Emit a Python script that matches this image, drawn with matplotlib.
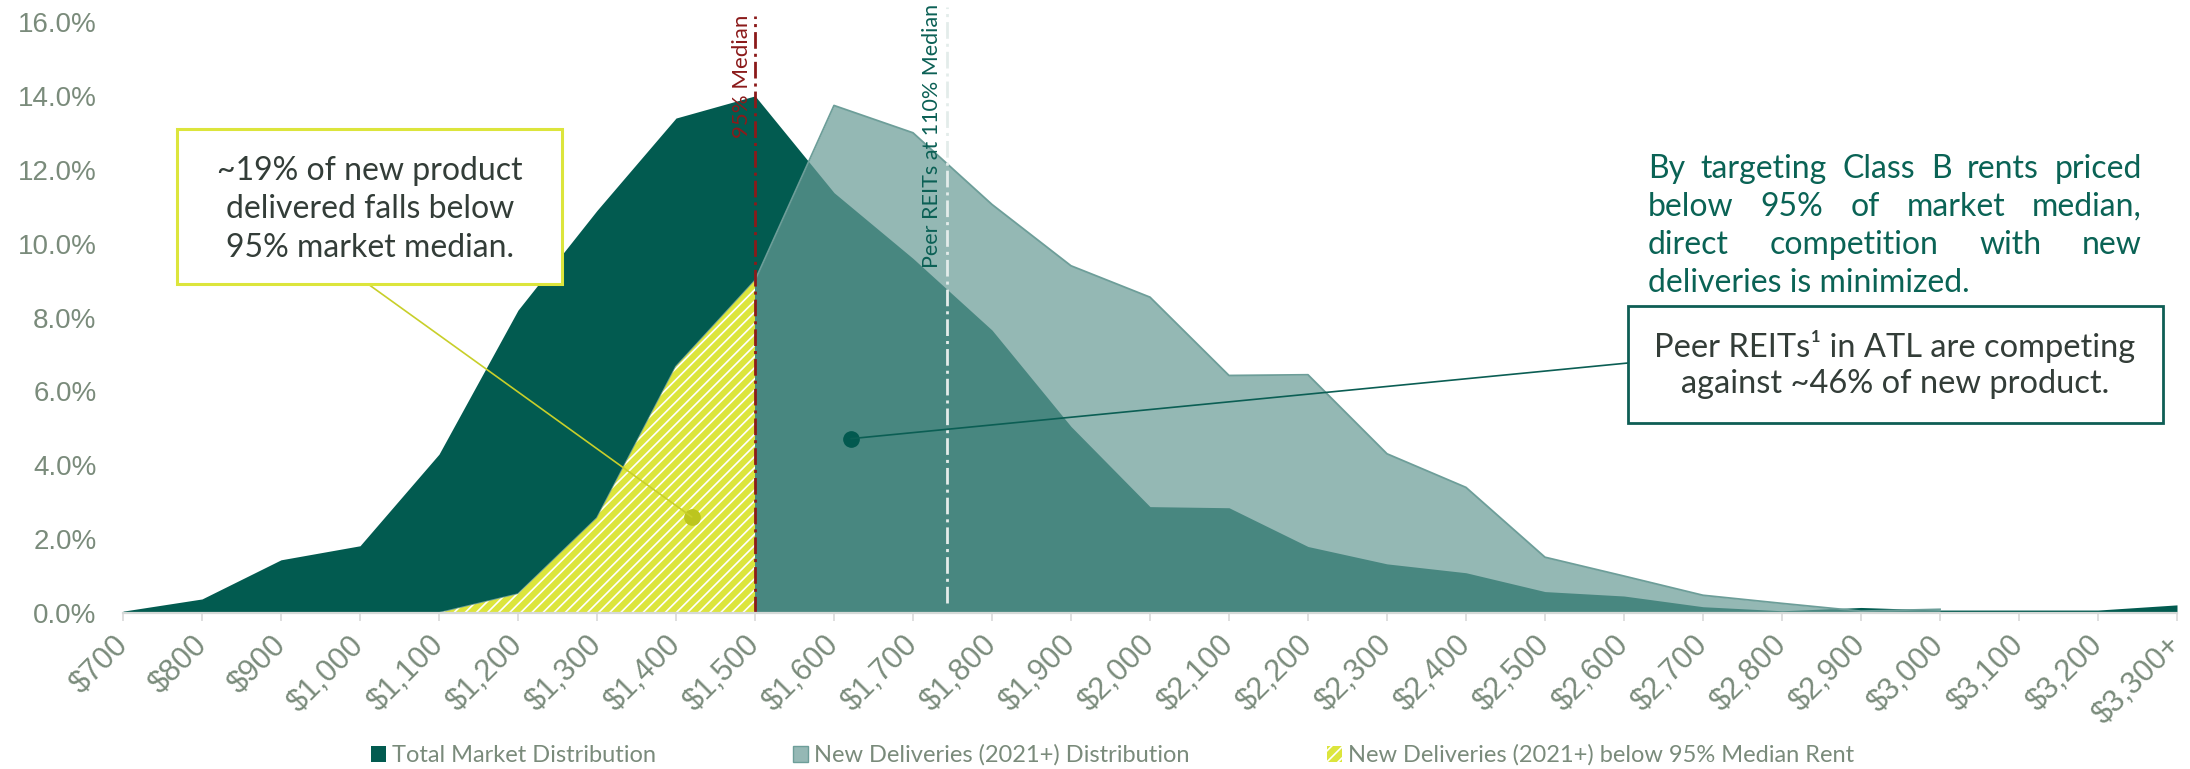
import numpy as np
import matplotlib.pyplot as plt
from matplotlib.patches import Patch, Rectangle
from matplotlib.ticker import FuncFormatter

plt.rcParams['hatch.linewidth'] = 1.2
plt.rcParams['hatch.color'] = 'white'

rent_labels = ['$700', '$800', '$900', '$1,000', '$1,100', '$1,200', '$1,300', '$1,400',
               '$1,500', '$1,600', '$1,700', '$1,800', '$1,900', '$2,000', '$2,100',
               '$2,200', '$2,300', '$2,400', '$2,500', '$2,600', '$2,700', '$2,800',
               '$2,900', '$3,000', '$3,100', '$3,200', '$3,300+']

# share of units in each rent band, %
total_market = [0.05, 0.38, 1.44, 1.82, 4.30, 8.20, 10.90, 13.40, 14.00, 11.38, 9.60, 7.66,
                5.05, 2.88, 2.85, 1.80, 1.33, 1.09, 0.58, 0.46, 0.17, 0.06, 0.15, 0.08,
                0.08, 0.08, 0.22]
new_deliveries = [np.nan, np.nan, np.nan, np.nan, 0.00, 0.51, 2.57, 6.67, 9.00, 13.74, 13.00,
                  11.06, 9.40, 8.55, 6.43, 6.45, 4.31, 3.40, 1.51, 1.00, 0.48, 0.26, 0.05,
                  0.10, np.nan, np.nan, np.nan]

rent_95_median = 1500
rent_110_median = 1743

legend_labels = ['Total Market Distribution', 'New Deliveries (2021+) Distribution',
                 'New Deliveries (2021+) below 95% Median Rent']

DARK = '#025B50'
LIGHT = '#679A95'
YELLOW = '#DCE53C'
RED = '#8B1A1A'
TICK_TXT = '#7A8B7B'
BODY_TXT = '#333D38'
W, H = 2190, 769


def rent_pos(rent):
    return (rent - 700) / 100


fig = plt.figure(figsize=(W / 100, H / 100), dpi=100)
ax = fig.add_axes([123 / W, 156 / H, 2054 / W, 591 / H])

x = np.arange(len(rent_labels))
nd = np.array(new_deliveries, dtype=float)

ax.fill_between(x, total_market, color=DARK, lw=0, zorder=1)
ax.fill_between(x, nd, color=LIGHT, alpha=0.7, lw=0, zorder=2)
ax.plot(x, nd, color='#6D9E99', lw=1.3, zorder=2)

# new product priced below the 95% median
below = x <= rent_pos(rent_95_median)
ax.fill_between(x[below], nd[below], facecolor=YELLOW, edgecolor='white', hatch='///',
                lw=0, zorder=3)

# median markers
dash = (0, (6, 1.8, 1.1, 1.8))
x95 = rent_pos(rent_95_median)
x110 = rent_pos(rent_110_median)
ax.plot([x95, x95], [0, 16.15], color=RED, lw=2, ls=dash, clip_on=False, zorder=4)
ax.plot([x110, x110], [0.27, 16.4], color='#E3ECEA', lw=2, ls=dash, clip_on=False, zorder=4)
ax.text(x95 - 0.17, 16.2, '95% Median', rotation=90, ha='center', va='top', color=RED,
        family='Lato', fontsize=16, clip_on=False, zorder=5)
ax.text(x110 - 0.19, 16.48, 'Peer REITs at 110% Median', rotation=90, ha='center', va='top',
        color='#0B6055', family='Lato', fontsize=15.5, clip_on=False, zorder=5)

ax.set_xlim(0, len(rent_labels) - 1)
ax.set_ylim(0, 16)
ax.set_xticks(x)
ax.set_xticklabels(rent_labels)
ax.set_yticks(np.arange(0, 17, 2))
ax.yaxis.set_major_formatter(FuncFormatter(lambda v, p: f'{v:.1f}%'))
for s in ['top', 'right', 'left']:
    ax.spines[s].set_visible(False)
ax.spines['bottom'].set_color('#D5D9D7')
ax.spines['bottom'].set_linewidth(1.6)
ax.spines['bottom'].set_zorder(6)
ax.tick_params(axis='x', length=6, width=1.2, color='#D9D9D9', pad=14,
               labelsize=22, labelcolor=TICK_TXT)
ax.tick_params(axis='y', length=0, pad=19, labelsize=20, labelcolor=TICK_TXT)
for lbl in ax.get_xticklabels():
    lbl.set_rotation(45)
    lbl.set_ha('right')
    lbl.set_va('center')
    lbl.set_rotation_mode('anchor')
    lbl.set_family('Liberation Sans')
for lbl in ax.get_yticklabels():
    lbl.set_family('Liberation Sans')


def fx(px):
    return px / W


def fy(py):
    return 1 - py / H


# callout: share below the 95% median
fig.patches.append(Rectangle((fx(177), fy(284)), fx(385), 155 / H, transform=fig.transFigure,
                             facecolor='white', edgecolor=YELLOW, lw=2.2, zorder=10))
for i, line in enumerate(['~19% of new product', 'delivered falls below',
                          '95% market median.']):
    fig.text(fx(370), fy(180 + i * 38.5), line, ha='center', va='baseline', family='Lato',
             fontsize=23, color=BODY_TXT, zorder=11)
ax.plot([7.2], [2.6], 'o', color='#BCC51E', ms=11, zorder=7)
ax.annotate('', xy=(7.2, 2.6), xytext=(fx(368), fy(284)), textcoords='figure fraction',
            arrowprops=dict(arrowstyle='-', color='#C8CF2A', lw=1.2, shrinkA=0, shrinkB=0),
            zorder=7)

# callout: peer REIT competition
fig.patches.append(Rectangle((fx(1628), fy(423)), fx(535), 117 / H, transform=fig.transFigure,
                             facecolor='white', edgecolor='#0E5E55', lw=2.0, zorder=10))
for i, line in enumerate(['Peer REITs¹ in ATL are competing', 'against ~46% of new product.']):
    fig.text(fx(1895), fy(357 + i * 36), line, ha='center', va='baseline', family='Lato',
             fontsize=23.5, color=BODY_TXT, zorder=11)
ax.plot([9.215], [4.72], 'o', color='#02594F', ms=11, zorder=7)
ax.annotate('', xy=(9.215, 4.72), xytext=(fx(1628), fy(363)), textcoords='figure fraction',
            arrowprops=dict(arrowstyle='-', color='#0B5E54', lw=1.2, shrinkA=0, shrinkB=0),
            zorder=7)

# justified note, top right
note = ['By targeting Class B rents priced', 'below 95% of market median,',
        'direct competition with new', 'deliveries is minimized.']
renderer = fig.canvas.get_renderer()
x0, x1 = fx(1648), fx(2142)
for i, line in enumerate(note):
    y = fy(178 + i * 38)
    style = dict(va='baseline', family='Lato', fontsize=23, color='#0A6355')
    if i == len(note) - 1:
        fig.text(x0, y, line, ha='left', **style)
        continue
    words = [fig.text(x0, y, w, ha='left', **style) for w in line.split()]
    widths = [t.get_window_extent(renderer).width / W for t in words]
    gap = (x1 - x0 - sum(widths)) / (len(words) - 1)
    pos = x0
    for t, wd in zip(words, widths):
        t.set_x(pos)
        pos += wd + gap

handles = [Patch(facecolor=DARK, edgecolor='none'),
           Patch(facecolor='#95B8B5', edgecolor='#6D9E99'),
           Patch(facecolor=YELLOW, edgecolor='white', hatch='///', lw=0)]
fig.legend(handles, legend_labels, loc='center', bbox_to_anchor=(0.508, 0.018), ncol=3,
           frameon=False, handlelength=0.65, handleheight=0.65, handletextpad=0.25,
           columnspacing=5.8, prop=dict(family='Lato', size=17), labelcolor=TICK_TXT,
           borderpad=0)

fig.savefig('out.png', dpi=100)
